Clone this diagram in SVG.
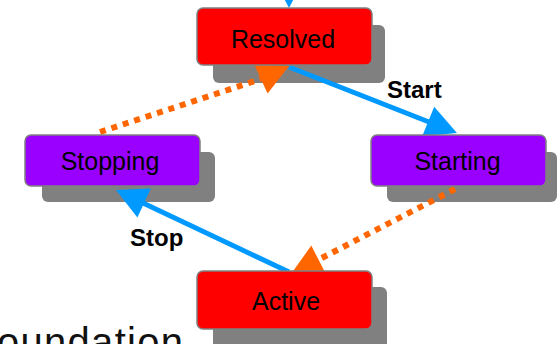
<svg xmlns="http://www.w3.org/2000/svg" width="558" height="344" viewBox="0 0 558 344">
<style>
.shadow{fill:#808080}
.box{stroke:#808080;stroke-width:1.5}
.red{fill:#FF0000}
.purple{fill:#9900FF}
.t{font-family:"Liberation Sans",Arial,sans-serif;font-size:25px;fill:#000;text-anchor:middle}
.lbl{font-family:"Liberation Sans",Arial,sans-serif;font-size:24px;font-weight:bold;fill:#000}
.blue{stroke:#0099FF;stroke-width:5;fill:none}
.blueh{fill:#0099FF}
.orange{stroke:#FF6600;stroke-width:6;stroke-dasharray:6 6;fill:none}
.orangeh{fill:#FF6600}
</style>
<rect width="558" height="344" fill="#FFFFFF"/>
<g id="shadows">
<rect class="shadow" x="213" y="25" width="172" height="58" rx="6"/>
<rect class="shadow" x="42" y="152" width="173" height="50" rx="6"/>
<rect class="shadow" x="387" y="152" width="170" height="50" rx="6"/>
<rect class="shadow" x="213" y="287" width="174" height="65" rx="6"/>
</g>
<g id="connectors">
<line class="blue" x1="289" y1="-30" x2="289" y2="-20"/>
<polygon class="blueh" points="273,-23 305,-23 289,8"/>
<line class="blue" x1="289" y1="67" x2="429" y2="122"/>
<polygon class="blueh" points="434.2,106.7 457,133 422.2,136.3"/>
<line class="blue" x1="289" y1="272" x2="143" y2="203"/>
<polygon class="blueh" points="150.8,188.5 116,190 137.4,217.5"/>
<line class="orange" x1="100" y1="132" x2="261" y2="79"/>
<polygon class="orangeh" points="267.6,93.5 289,66 254.2,64.5"/>
<line class="orange" x1="455" y1="189" x2="318" y2="260"/>
<polygon class="orangeh" points="311.3,245.6 291,274 325.9,274"/>
</g>
<g id="resolved">
<rect class="box red" x="197" y="8" width="175" height="57" rx="6"/>
<text class="t" x="283" y="48">Resolved</text>
</g>
<g id="stopping">
<rect class="box purple" x="25" y="135" width="175" height="51" rx="6"/>
<text class="t" x="110" y="170">Stopping</text>
</g>
<g id="starting">
<rect class="box purple" x="371" y="135" width="175" height="51" rx="6"/>
<text class="t" x="457.5" y="170">Starting</text>
</g>
<g id="active">
<rect class="box red" x="197" y="271" width="175" height="58" rx="6"/>
<text class="t" x="286" y="310">Active</text>
</g>
<g id="labels">
<text class="lbl" x="387" y="98">Start</text>
<text class="lbl" x="130" y="246">Stop</text>
</g>
<text x="-3" y="356" font-family="'Liberation Sans',Arial,sans-serif" font-size="40" fill="#111" textLength="186" lengthAdjust="spacing">oundation</text>
</svg>
